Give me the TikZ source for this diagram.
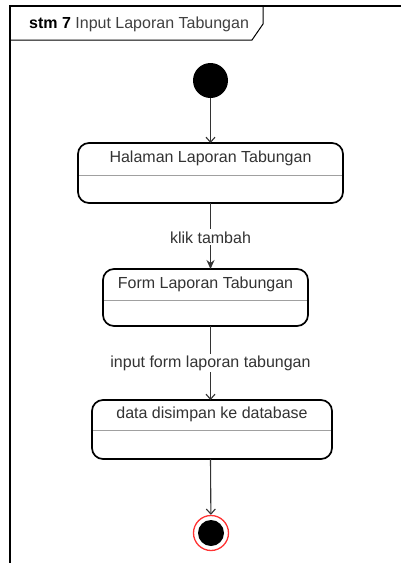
\documentclass[tikz,border=0pt]{standalone}
\usepackage{fontspec}
\setmainfont{Liberation Sans}
\usetikzlibrary{arrows.meta}
\definecolor{linegray}{HTML}{333333}
\definecolor{sepgray}{HTML}{A0A0A0}
\definecolor{finalred}{HTML}{FF3333}
\begin{document}
\begin{tikzpicture}[x=1pt,y=-1pt,
  font=\fontsize{16}{18}\selectfont,
  statebox/.style={draw=black,line width=1.7pt,rounded corners=11pt,fill=white},
  sep/.style={draw=sepgray,line width=0.8pt},
  flow/.style={draw=linegray,line width=1.1pt,-{Straight Barb[length=5pt,width=9pt]}},
  flowfilled/.style={draw=linegray,line width=1.1pt,-{Stealth[length=9pt,width=8pt]}},
  tlabel/.style={fill=white,inner sep=2pt,text=black!80}]
\useasboundingbox (0,0) rectangle (401,563);
\fill[white] (0,0) rectangle (401,563);

% frame with title tab
\draw[black,line width=1.4pt] (10,563) -- (10,6) -- (401,6);
\draw[black,line width=1pt] (10,40) -- (252,40) -- (263,24) -- (263,6);
\node[anchor=west,inner sep=0pt] (title) at (29,24) {\textbf{stm 7} \textcolor{black!75}{Input Laporan Tabungan}};

% initial state
\node[circle,fill=black,minimum size=35pt,inner sep=0pt] (init) at (210.5,80.5) {};

% states
\draw[statebox] (78,143) rectangle (343,203);
\draw[sep] (79,175) -- (342,175);
\node (s1) at (210.5,158) {\textcolor{black!80}{Halaman Laporan Tabungan}};
\coordinate (s1top) at (210.5,143);
\coordinate (s1bot) at (210.5,203);

\draw[statebox] (103,269) rectangle (308,326);
\draw[sep] (104,300) -- (307,300);
\node (s2) at (205.5,284) {\textcolor{black!80}{Form Laporan Tabungan}};
\coordinate (s2top) at (210.5,269);
\coordinate (s2bot) at (210.5,326);

\draw[statebox] (92,400) rectangle (332,459);
\draw[sep] (93,430) -- (331,430);
\node (s3) at (212,414) {\textcolor{black!80}{data disimpan ke database}};
\coordinate (s3top) at (210.5,400);
\coordinate (s3bot) at (210.5,459);

% final state
\node[circle,draw=finalred,line width=1.3pt,fill=white,minimum size=35pt,inner sep=0pt] (final) at (211,533) {};
\node[circle,fill=black,minimum size=26pt,inner sep=0pt] (finalcore) at (211,533) {};

% transitions
\draw[flow] (init) -- (s1top);
\draw[flowfilled] (s1bot) -- node[tlabel,pos=0.52] (l1) {klik tambah} (s2top);
\draw[flow] (s2bot) -- node[tlabel,pos=0.5] (l2) {input form laporan tabungan} (s3top);
\draw[flow] (s3bot) -- (final);
\end{tikzpicture}
\end{document}
